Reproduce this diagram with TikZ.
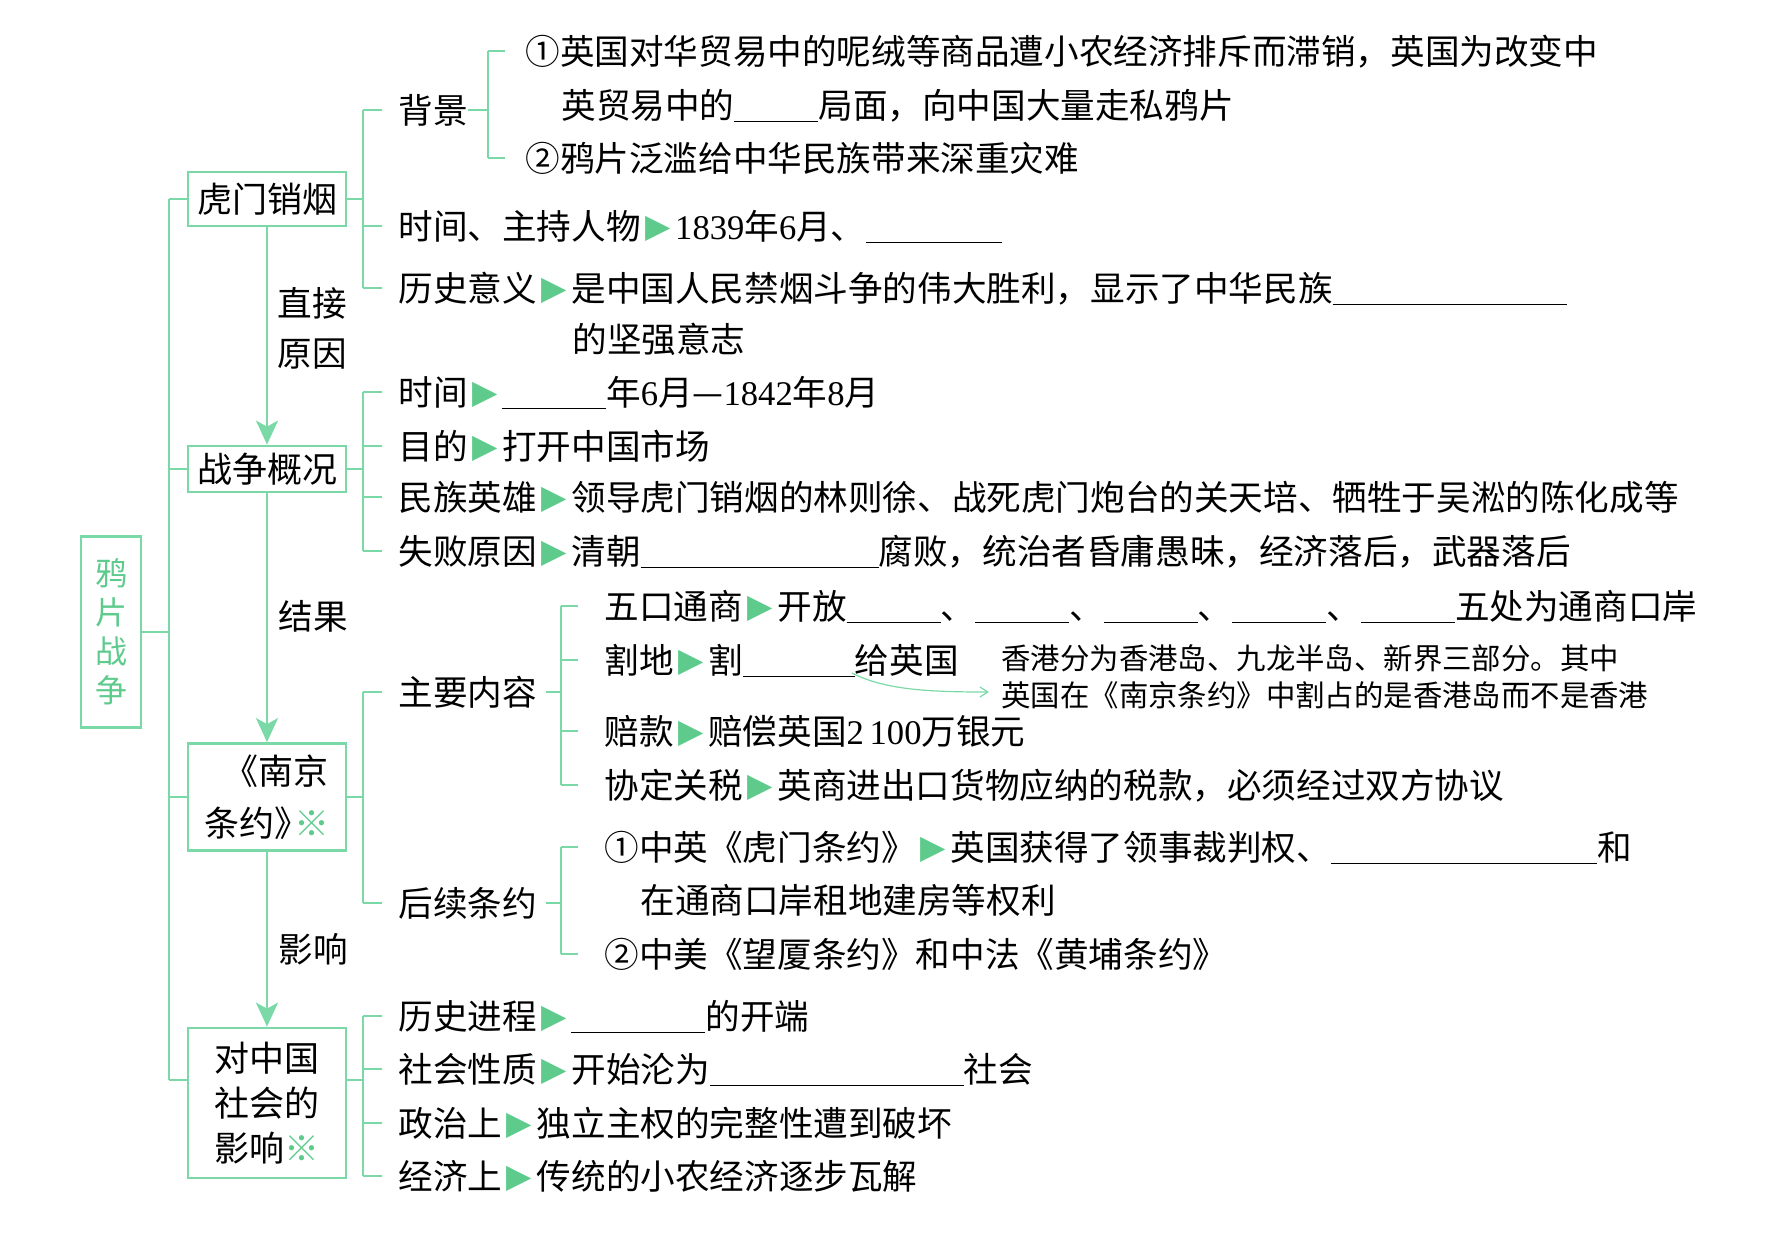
\documentclass[tikz,border=0pt]{standalone}
\usepackage{fontspec}
\setmainfont{Liberation Serif}
\newfontfamily\cjk{Noto Sans CJK SC}
\newfontfamily\sym{DejaVu Sans}
\usetikzlibrary{positioning, arrows.meta, calc}
\definecolor{lg}{HTML}{7AD9A6}
\definecolor{tg}{HTML}{5ECB8D}
\newcommand\tri{\makebox[1em]{\color{tg}\sym\fontsize{16.5pt}{16.5pt}\selectfont\raisebox{1pt}{▶}}}
\newcommand\fillin[1]{\rule[-2pt]{#1pt}{0.8pt}}
\newcommand\lat[1]{{\rmfamily #1}}
\tikzset{
  link/.style={draw=lg, line width=1.35pt},
  flow/.style={link, -{Stealth[length=12pt,width=11pt,inset=3pt]}},
  txt/.style={anchor=west, inner sep=0pt, text height=15.2pt, text depth=2.1pt, font=\cjk\fontsize{17.3pt}{22pt}\selectfont},
  note/.style={txt, text height=12.9pt, text depth=1.8pt, font=\cjk\fontsize{14.7pt}{18pt}\selectfont},
  lbl/.style={inner sep=0pt, align=center, font=\cjk\fontsize{17.3pt}{25pt}\selectfont},
  topic/.style={draw=lg, line width=1.4pt, inner sep=0pt, minimum width=79pt, align=center, font=\cjk\fontsize{17.5pt}{26pt}\selectfont},
}

\begin{document}
\begin{tikzpicture}[x=0.5pt, y=-0.5pt]
  \useasboundingbox (0,0) rectangle (1770,1239);
  % topic boxes
  \node[topic, minimum width=30pt, minimum height=95.5pt, text=tg, font=\cjk\fontsize{16pt}{19.5pt}\selectfont] (yp) at (111,632) {鸦\\片\\战\\争};
  \node[topic, minimum height=27pt] (hm) at (267,199) {虎门销烟};
  \node[topic, minimum height=23pt] (zz) at (267,469) {战争概况};
  \node[topic, minimum height=53.5pt] (nj) at (267,797) {\hspace*{0.5em}《南京\\条约》\kern-0.45em{\color{tg}※}};
  \node[topic, minimum height=75pt, font=\cjk\fontsize{17.5pt}{22.5pt}\selectfont] (yx) at (267,1103) {对中国\\社会的\\影响{\color{tg}※}};
  \node[lbl] (zj) at (312,328) {直接\\原因};
  \node[lbl] (jg) at (313,616) {结果};
  \node[lbl] (yxl) at (313,949) {影响};
  \foreach \a/\b in {hm/zz, zz/nj, nj/yx} \draw[flow] (\a.south) -- (\b.north);

  % 虎门销烟
  \node[txt] (bj) at (398,110) {背景};
  \node[txt] (bj1) at (525,51) {①英国对华贸易中的呢绒等商品遭小农经济排斥而滞销，英国为改变中};
  \node[txt] (bj2) at (561,105) {英贸易中的\fillin{42}局面，向中国大量走私鸦片};
  \node[txt] (bj3) at (525,158) {②鸦片泛滥给中华民族带来深重灾难};
  \node[txt] (sj) at (398,226) {时间、主持人物\tri\lat{1839}年\lat{6}月、\fillin{68}};
  \node[txt] (ls) at (398,288) {历史意义\tri 是中国人民禁烟斗争的伟大胜利，显示了中华民族\fillin{117}};
  \node[txt] (ls2) at (572,339) {的坚强意志};

  % 战争概况
  \node[txt] (zsj) at (398,392) {时间\tri\fillin{52}年\lat{6}月—\lat{1842}年\lat{8}月};
  \node[txt] (md) at (398,446) {目的\tri 打开中国市场};
  \node[txt] (mz) at (398,497) {民族英雄\tri 领导虎门销烟的林则徐、战死虎门炮台的关天培、牺牲于吴淞的陈化成等};
  \node[txt] (sb) at (398,551) {失败原因\tri 清朝\fillin{119}腐败，统治者昏庸愚昧，经济落后，武器落后};

  % 南京条约
  \node[txt] (zy) at (398,692) {主要内容};
  \node[txt] (wk) at (604,606) {五口通商\tri 开放\fillin{47}、\fillin{47}、\fillin{47}、\fillin{47}、\fillin{47}五处为通商口岸};
  \node[txt] (gd) at (604,660) {割地\tri 割\fillin{56}给英国};
  \node[txt] (pk) at (604,731) {赔款\tri 赔偿英国\lat{2\,100}万银元};
  \node[txt] (xd) at (604,785) {协定关税\tri 英商进出口货物应纳的税款，必须经过双方协议};
  \node[note] (nt1) at (1001,658) {香港分为香港岛、九龙半岛、新界三部分。其中};
  \node[note] (nt2) at (1001,695) {英国在《南京条约》中割占的是香港岛而不是香港};
  \node[txt] (hx) at (398,903) {后续条约};
  \node[txt] (hx1) at (604,847) {①中英《虎门条约》\tri 英国获得了领事裁判权、\fillin{133}和};
  \node[txt] (hx2) at (640,900) {在通商口岸租地建房等权利};
  \node[txt] (hx3) at (604,954) {②中美《望厦条约》和中法《黄埔条约》};

  % 对中国社会的影响
  \node[txt] (lj) at (398,1016) {历史进程\tri\fillin{67}的开端};
  \node[txt] (sh) at (398,1069) {社会性质\tri 开始沦为\fillin{127}社会};
  \node[txt] (zzs) at (398,1123) {政治上\tri 独立主权的完整性遭到破坏};
  \node[txt] (jj) at (398,1176) {经济上\tri 传统的小农经济逐步瓦解};

  % spine
  \coordinate (sp) at (169,632);
  \coordinate (yxw) at ($(yx.west)+(0,-23)$);
  \coordinate (yxe) at ($(yx.east)+(0,-23)$);
  \draw[link] (yp.east) -- (sp);
  \draw[link] (sp |- hm.west) -- (sp |- yxw);
  \foreach \n in {hm, zz, nj} \draw[link] (sp |- \n.west) -- (\n.west);
  \draw[link] (sp |- yxw) -- (yxw);

  % brackets
  \coordinate (b1) at (363,0);
  \coordinate (b2) at (488,0);
  \coordinate (b3) at (561,0);
  \foreach \s/\f/\l in {hm/bj/ls, zz/zsj/sb, nj/zy/hx} {
    \draw[link] (\s.east) -- (b1 |- \s.east);
    \draw[link] (b1 |- \f.west) -- (b1 |- \l.west);
  }
  \draw[link] (yxe) -- (b1 |- yxe);
  \draw[link] (b1 |- lj.west) -- (b1 |- jj.west);
  \foreach \n in {bj, sj, ls, zsj, md, mz, sb, zy, hx, lj, sh, zzs, jj} \draw[link] (b1 |- \n.west) -- ($(\n.west)+(-16,0)$);
  \draw[link] (bj.east) -- (b2 |- bj.east);
  \draw[link] (b2 |- bj1.west) -- (b2 |- bj3.west);
  \foreach \n in {bj1, bj3} \draw[link] (b2 |- \n.west) -- ($(\n.west)+(-20,0)$);
  \draw[link] ($(zy.east)+(9,0)$) -- (b3 |- zy.east);
  \draw[link] (b3 |- wk.west) -- (b3 |- xd.west);
  \draw[link] ($(hx.east)+(9,0)$) -- (b3 |- hx.east);
  \draw[link] (b3 |- hx1.west) -- (b3 |- hx3.west);
  \foreach \n in {wk, gd, pk, xd, hx1, hx3} \draw[link] (b3 |- \n.west) -- ($(\n.west)+(-26,0)$);

  % note arrow
  \coordinate (ar) at (852,673);
  \draw[draw=lg, line width=0.6pt, -{Straight Barb[length=4pt,width=5pt]}] (ar) .. controls (885,690) and (930,692) .. ($(nt2.west)+(-12,-3)$);
\end{tikzpicture}
\end{document}
